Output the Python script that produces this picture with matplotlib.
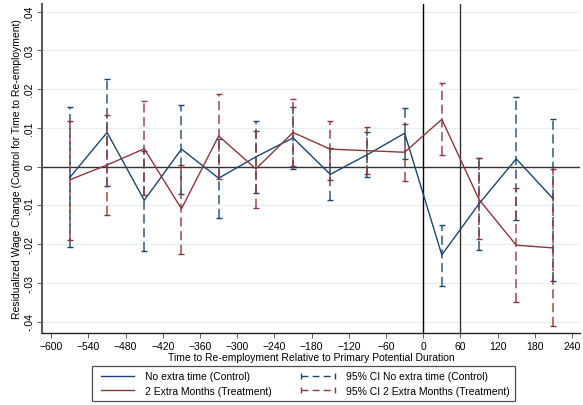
import matplotlib
matplotlib.use("Agg")
import matplotlib.pyplot as plt
from matplotlib.lines import Line2D

plt.rcParams["font.family"] = ["Liberation Sans", "DejaVu Sans"]

# event time (days relative to primary potential duration)
periods = [-570, -510, -450, -390, -330, -270, -210, -150, -90, -30, 30, 90, 150, 210]

# No extra time (Control)
ctrl_mean = [-0.0028, 0.0088, -0.0087, 0.0045, -0.0030, 0.0025, 0.0074,
             -0.0020, 0.0031, 0.0086, -0.0228, -0.0096, 0.0020, -0.0084]
ctrl_lo = [-0.0208, -0.0049, -0.0218, -0.0070, -0.0132, -0.0068, -0.0006,
           -0.0087, -0.0028, 0.0019, -0.0309, -0.0216, -0.0139, -0.0295]
ctrl_hi = [0.0154, 0.0227, 0.0040, 0.0160, 0.0072, 0.0118, 0.0154,
           0.0047, 0.0090, 0.0152, -0.0151, 0.0021, 0.0180, 0.0124]

# 2 Extra Months (Treatment)
treat_mean = [-0.0034, 0.0004, 0.0046, -0.0109, 0.0079, -0.0006, 0.0088,
              0.0045, 0.0041, 0.0037, 0.0122, -0.0085, -0.0203, -0.0210]
treat_lo = [-0.0190, -0.0126, -0.0073, -0.0226, -0.0031, -0.0107, 0.0002,
            -0.0034, -0.0020, -0.0036, 0.0030, -0.0186, -0.0350, -0.0412]
treat_hi = [0.0118, 0.0133, 0.0168, 0.0004, 0.0188, 0.0092, 0.0174,
            0.0118, 0.0103, 0.0111, 0.0216, 0.0021, -0.0056, -0.0007]

x_ticks = list(range(-600, 241, 60))
y_ticks = [-0.04, -0.03, -0.02, -0.01, 0, 0.01, 0.02, 0.03, 0.04]
y_labels = ["-.04", "-.03", "-.02", "-.01", "0", ".01", ".02", ".03", ".04"]

BLUE = "#1a476f"
RED = "#90353b"

fig = plt.figure(figsize=(5.83, 4.06), dpi=100)
ax = fig.add_axes([0.072, 0.177, 0.923, 0.811])

for y in y_ticks:
    ax.axhline(y, color="#e6eeef", lw=0.8, zorder=0)


def draw_ci(mean, lo, hi, color):
    err = [[m - l for m, l in zip(mean, lo)], [h - m for m, h in zip(mean, hi)]]
    _, caps, bars = ax.errorbar(periods, mean, yerr=err, fmt="none", ecolor=color,
                                elinewidth=1.1, capsize=2.5, capthick=1.0, zorder=2)
    bars[0].set_linestyle((0, (6, 3)))
    bars[0].set_alpha(0.9)


draw_ci(ctrl_mean, ctrl_lo, ctrl_hi, BLUE)
draw_ci(treat_mean, treat_lo, treat_hi, RED)

ax.plot(periods, ctrl_mean, color=BLUE, lw=1.0, zorder=3)
ax.plot(periods, treat_mean, color=RED, lw=1.0, zorder=3)

ax.axhline(0, color="#333333", lw=1.0, zorder=1)
ax.axvline(0, color="black", lw=1.0, zorder=1)
ax.axvline(60, color="#333333", lw=1.0, zorder=1)

ax.set_xlim(-615, 253)
ax.set_ylim(-0.043, 0.042)
ax.set_xticks(x_ticks)
ax.set_yticks(y_ticks)
ax.set_yticklabels(y_labels, rotation=90, va="center")
ax.tick_params(labelsize=7.5, length=3.5, width=0.6, color="#444444", pad=2)

for side in ["top", "right"]:
    ax.spines[side].set_visible(False)
ax.spines["left"].set_color("#555555")
ax.spines["left"].set_linewidth(1.4)
ax.spines["bottom"].set_color("#222222")
ax.spines["bottom"].set_linewidth(1.0)

ax.set_xlabel("Time to Re-employment Relative to Primary Potential Duration",
              fontsize=7.5, labelpad=1)
ax.set_ylabel("Residualized Wage Change (Control for Time to Re-employment)",
              fontsize=7.5, labelpad=2)

handles = [
    Line2D([], [], color=BLUE, lw=1.0),
    Line2D([], [], color=RED, lw=1.0),
    Line2D([], [], color=BLUE, lw=1.0, ls=(0, (5, 3)), marker="|", markersize=5),
    Line2D([], [], color=RED, lw=1.0, ls=(0, (5, 3)), marker="|", markersize=5),
]
labels = ["No extra time (Control)", "2 Extra Months (Treatment)",
          "95% CI No extra time (Control)", "95% CI 2 Extra Months (Treatment)"]
leg = fig.legend(handles, labels, ncol=2, loc="upper center",
                 bbox_to_anchor=(0.521, 1 - 362 / 406), fontsize=7.5,
                 frameon=True, fancybox=False, numpoints=2, handlelength=3.8,
                 columnspacing=2.5, borderpad=0.5, labelspacing=0.45)
leg.get_frame().set_edgecolor("#222222")
leg.get_frame().set_linewidth(0.9)

fig.savefig("out.png", dpi=100)
